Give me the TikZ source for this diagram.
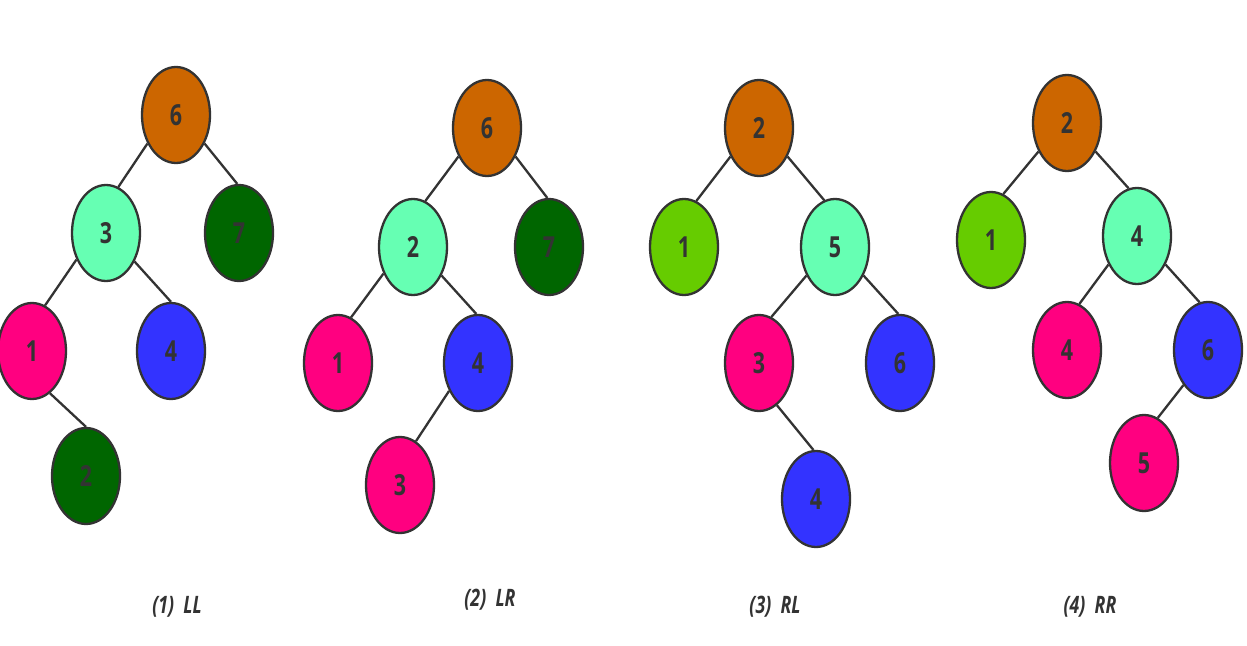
\documentclass[tikz,border=0pt]{standalone}
\usepackage{fontspec}
\setmainfont{Open Sans}[FakeStretch=0.74]
\usetikzlibrary{shapes.geometric}
\definecolor{cOrange}{HTML}{CC6600}
\definecolor{cMint}{HTML}{66FFB3}
\definecolor{cDark}{HTML}{006600}
\definecolor{cPink}{HTML}{FF0080}
\definecolor{cBlue}{HTML}{3333FF}
\definecolor{cLime}{HTML}{66CC00}
\definecolor{cInk}{HTML}{333333}
\tikzset{
  tnode/.style={ellipse, draw=cInk, line width=2.3pt, minimum width=68pt, minimum height=96pt,
    inner sep=0pt, text=cInk, font=\fontsize{29}{29}\selectfont\bfseries},
  orange/.style={tnode, fill=cOrange},
  mint/.style={tnode, fill=cMint},
  dark/.style={tnode, fill=cDark},
  pink/.style={tnode, fill=cPink},
  blue/.style={tnode, fill=cBlue},
  lime/.style={tnode, fill=cLime},
  edge/.style={draw=cInk, line width=2.3pt},
  caption/.style={text=cInk, font=\fontsize{24}{24}\selectfont\bfseries\itshape}
}
\begin{document}
\begin{tikzpicture}[x=1pt, y=-1pt]
\useasboundingbox (0,0) rectangle (1247,645);
\fill[white] (0,0) rectangle (1247,645);

% (1) LL
\node[orange] (a6) at (176,115) {6};
\node[mint]   (a3) at (106,233) {3};
\node[dark]   (a7) at (239,233) {7};
\node[pink]   (a1) at (32,351)  {1};
\node[blue]   (a4) at (171,351) {4};
\node[dark]   (a2) at (86,476)  {2};
\draw[edge] (a6.225) -- (a3.75);
\draw[edge] (a6.315) -- (a7.92);
\draw[edge] (a3.222) -- (a1.74);
\draw[edge] (a3.315) -- (a4.90);
\draw[edge] (a1.293) -- (a2.90);
\node[caption] (capA) at (177,607) {(1)\ \ LL};

% (2) LR
\node[orange] (b6) at (487,128) {6};
\node[mint]   (b2) at (413,247) {2};
\node[dark]   (b7) at (549,247) {7};
\node[pink]   (b1) at (338,363) {1};
\node[blue]   (b4) at (478,363) {4};
\node[pink]   (b3) at (400,485) {3};
\draw[edge] (b6.225) -- (b2.75);
\draw[edge] (b6.315) -- (b7.92);
\draw[edge] (b2.222) -- (b1.74);
\draw[edge] (b2.315) -- (b4.92);
\draw[edge] (b4.224) -- (b3.70);
\node[caption] (capB) at (490,600) {(2)\ \ LR};

% (3) RL
\node[orange] (c2) at (759,128) {2};
\node[lime]   (c1) at (684,247) {1};
\node[mint]   (c5) at (835,247) {5};
\node[pink]   (c3) at (759,363) {3};
\node[blue]   (c6) at (900,363) {6};
\node[blue]   (c4) at (816,499) {4};
\draw[edge] (c2.225) -- (c1.75);
\draw[edge] (c2.315) -- (c5.103);
\draw[edge] (c5.225) -- (c3.75);
\draw[edge] (c5.315) -- (c6.92);
\draw[edge] (c3.293) -- (c4.93);
\node[caption] (capC) at (775,607) {(3)\ \ RL};

% (4) RR
\node[orange] (d2) at (1067,123) {2};
\node[lime]   (d1) at (991,240)  {1};
\node[mint]   (d4) at (1137,236) {4};
\node[pink]   (d4b) at (1067,350) {4};
\node[blue]   (d6) at (1208,350) {6};
\node[pink]   (d5) at (1144,463) {5};
\draw[edge] (d2.225) -- (d1.75);
\draw[edge] (d2.315) -- (d4.100);
\draw[edge] (d4.225) -- (d4b.75);
\draw[edge] (d4.315) -- (d6.100);
\draw[edge] (d6.235) -- (d5.73);
\node[caption] (capD) at (1090,607) {(4)\ \ RR};
\end{tikzpicture}
\end{document}
